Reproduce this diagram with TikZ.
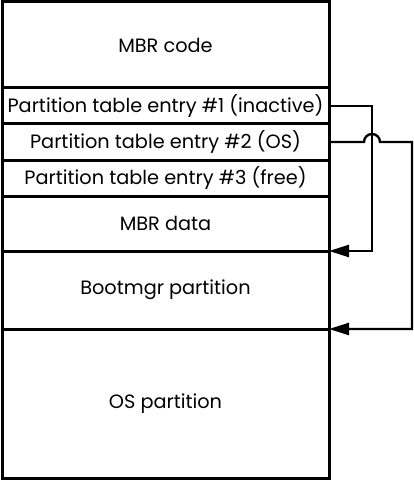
\documentclass[tikz,border=0pt]{standalone}
\usepackage{fontspec}
\setmainfont{Poppins}
\usepackage{tikz}
\usetikzlibrary{positioning,arrows.meta}
\tikzset{row/.style={draw, line width=3pt, minimum width=327pt, outer sep=0pt, inner sep=0pt, font=\fontsize{19.3}{22}\selectfont}}
\tikzset{link/.style={line width=2.4pt, -{Triangle[length=20pt,width=12pt]}}}

\begin{document}
\begin{tikzpicture}
    \useasboundingbox (0,0) rectangle (414pt,-481pt);
    \node[row, minimum height=86pt, anchor=north west] at (2pt,-2pt) (code){MBR code};
    \node[row, minimum height=36pt, below=0pt of code] (e1){Partition table entry \#1 (inactive)};
    \node[row, minimum height=36pt, below=0pt of e1] (e2){Partition table entry \#2 (OS)};
    \node[row, minimum height=36pt, below=0pt of e2] (e3){Partition table entry \#3 (free)};
    \node[row, minimum height=55pt, below=0pt of e3] (data){MBR data};
    \node[row, minimum height=78pt, below=0pt of data] (boot){Bootmgr partition};
    \node[row, minimum height=149pt, below=0pt of boot] (os){OS partition};

    \draw[link] (e1.east) -- ([xshift=43pt]e1.east) |- (boot.north east);
    \draw[link] (e2.east) -- ([xshift=35pt]e2.east) arc[start angle=180, end angle=0, radius=8pt] -- ([xshift=83pt]e2.east) |- (os.north east);
\end{tikzpicture}
\end{document}
